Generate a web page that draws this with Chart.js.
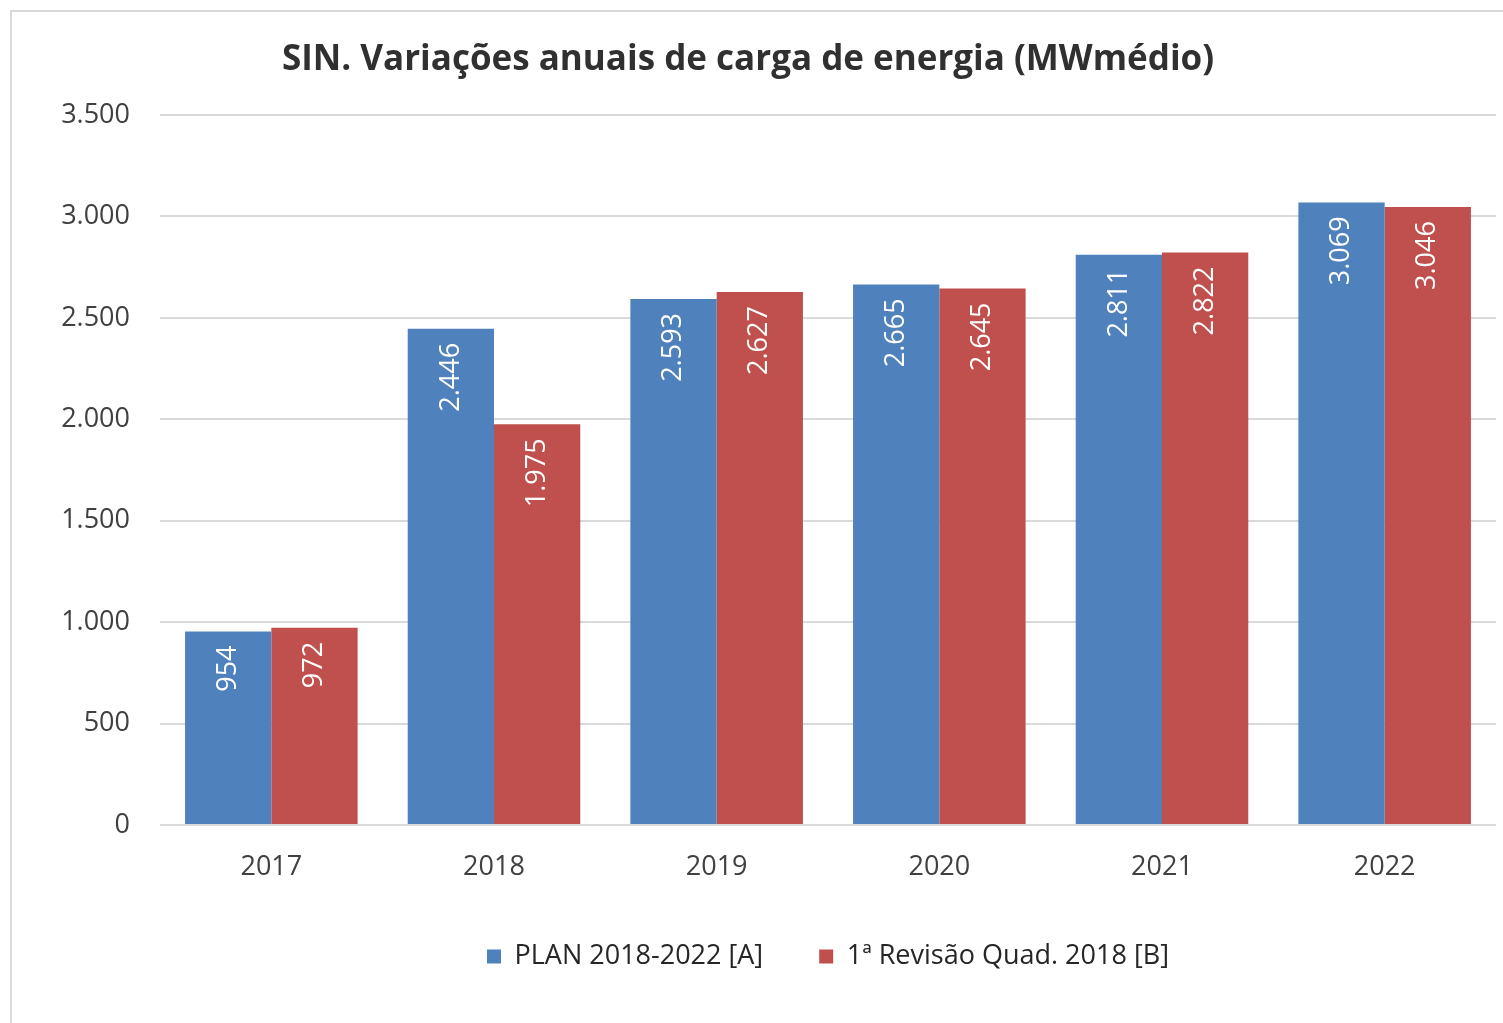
<!DOCTYPE html>
<html>
<head>
<meta charset="utf-8">
<script src="https://cdn.jsdelivr.net/npm/chart.js@4.4.0/dist/chart.umd.min.js"></script>
<style>
  html, body { margin: 0; padding: 0; background: #fff; }
  #wrap { position: relative; width: 1503px; height: 1023px; }
  #frame {
    position: absolute; left: 10px; top: 10px; right: 0; bottom: 0;
    border-left: 2px solid #d9d9d9; border-top: 2px solid #d9d9d9;
    pointer-events: none;
  }
  canvas { position: absolute; left: 0; top: 0; }
</style>
</head>
<body>
<div id="wrap">
  <canvas id="chart" width="1503" height="1023"></canvas>
  <div id="frame"></div>
</div>
<script>
// Chart data
const years = ["2017", "2018", "2019", "2020", "2021", "2022"];
const planValues = [954, 2446, 2593, 2665, 2811, 3069];
const revisionValues = [972, 1975, 2627, 2645, 2822, 3046];
const seriesNames = ["PLAN 2018-2022 [A]", "1ª Revisão Quad. 2018 [B]"];

const FONT = "'Open Sans', 'Noto Sans', sans-serif";

// pt-BR style thousands separator
function fmt(v) {
  return String(v).replace(/\B(?=(\d{3})+(?!\d))/g, ".");
}

// rotated value labels inside top of bars
const barLabels = {
  id: "barLabels",
  afterDatasetsDraw(chart) {
    const ctx = chart.ctx;
    ctx.save();
    ctx.fillStyle = "#ffffff";
    ctx.font = "27px " + FONT;
    ctx.textAlign = "right";
    ctx.textBaseline = "middle";
    chart.data.datasets.forEach((ds, i) => {
      chart.getDatasetMeta(i).data.forEach((bar, j) => {
        ctx.save();
        ctx.translate(bar.x, bar.y + 14);
        ctx.rotate(-Math.PI / 2);
        ctx.fillText(fmt(ds.data[j]), 0, 0);
        ctx.restore();
      });
    });
    ctx.restore();
  },
};

new Chart(document.getElementById("chart"), {
  type: "bar",
  data: {
    labels: years,
    datasets: [
      {
        label: seriesNames[0],
        data: planValues,
        backgroundColor: "#4f81bd",
      },
      {
        label: seriesNames[1],
        data: revisionValues,
        backgroundColor: "#c0504d",
      },
    ],
  },
  options: {
    responsive: false,
    animation: false,
    categoryPercentage: 0.775,
    barPercentage: 1.0,
    layout: { padding: { left: 0, right: 7, top: 0, bottom: 43 } },
    plugins: {
      title: {
        display: true,
        text: "SIN. Variações anuais de carga de energia (MWmédio)",
        color: "#303030",
        font: { family: FONT, size: 35, weight: "bold" },
        padding: { top: 39, bottom: 34 },
      },
      legend: {
        position: "bottom",
        fullSize: false,
        labels: {
          color: "#262626",
          font: { family: FONT, size: 27 },
          boxWidth: 14,
          boxHeight: 14,
          padding: 56,
        },
      },
      tooltip: { enabled: false },
    },
    scales: {
      x: {
        grid: { display: false },
        border: { display: false },
        afterFit: (scale) => {
          scale.height = 62;
        },
        ticks: {
          color: "#404040",
          font: { family: FONT, size: 27 },
          padding: 18,
        },
      },
      y: {
        min: 0,
        max: 3500,
        afterFit: (scale) => {
          scale.width = 160;
        },
        grid: { color: "#d9d9d9", lineWidth: 2, drawTicks: false },
        border: { display: false },
        ticks: {
          stepSize: 500,
          color: "#404040",
          font: { family: FONT, size: 27 },
          padding: 30,
          callback: (v) => fmt(v),
        },
      },
    },
  },
  plugins: [barLabels],
});
</script>
</body>
</html>
